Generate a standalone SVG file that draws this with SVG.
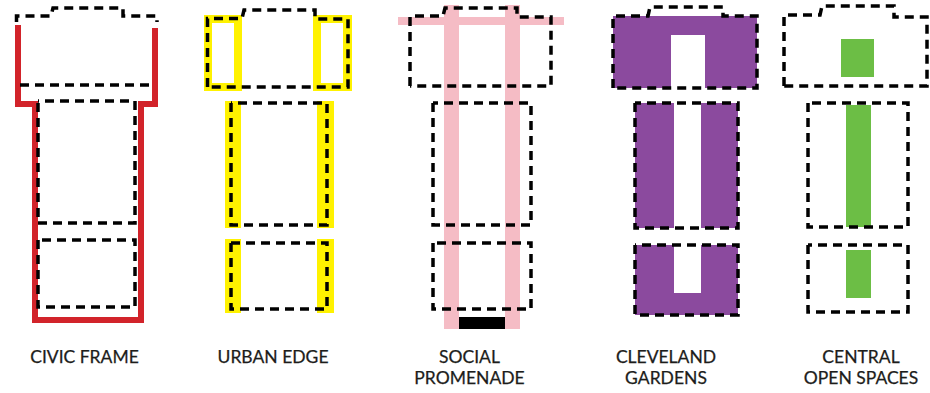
<svg xmlns="http://www.w3.org/2000/svg" width="930" height="393" viewBox="0 0 930 393">
<style>
.d{fill:none;stroke:#000;stroke-width:3.500;stroke-dasharray:9 6}
.t{font-family:"Lato","Liberation Sans",sans-serif;font-size:17.500px;fill:#1d1d1b;stroke:#1d1d1b;stroke-width:.25;text-anchor:middle}
.r{fill:none;stroke:#d2232a;stroke-width:6}
.y{fill:#fff200}.p{fill:#f5bcc5}.m{fill:#8b4a9e}.g{fill:#6cbe45}
</style>
<rect width="930" height="393" fill="#fff"/>
<g id="civic-frame">
<path class="r" d="M18 25V104H35V320H141V104H155V28"/>
<path class="d" d="M16.500 22V16H51L53 8H123V16H157V22M20 85H153M38 103V223H135V101H38M38 240V307H135V240H38"/>
<text class="t" x="84.500" y="362.500">CIVIC FRAME</text>
</g>
<g id="urban-edge">
<path class="y" fill-rule="evenodd" d="M204 15H242V91H204ZM212 23V83H234V23ZM313 15H352V91H313ZM321 23V83H343V23Z"/>
<path class="y" d="M225 101H241V228H225ZM317 101H334V228H317ZM225 239H241V313H225ZM317 239H334V313H317Z"/>
<path class="d" d="M207.500 87V18.500H242L244 10H315V19H348V87H207.500M231 103V225H327V103H231M231 243V309H327V243H231"/>
<text class="t" x="273" y="362.500">URBAN EDGE</text>
</g>
<g id="social-promenade">
<path class="p" d="M398 17H564V25H398ZM444 5H459V329H444ZM505 5H520V329H505Z"/>
<rect x="459" y="317" width="46" height="12" fill="#000"/>
<path class="d" d="M410 86V16H443L445 8H517V17H551V86H410M433 103V225H531V103H433M433 243V309H531V243H433"/>
<text class="t" x="469.500" y="362.500">SOCIAL</text>
<text class="t" x="469.500" y="383.500">PROMENADE</text>
</g>
<g id="cleveland-gardens">
<path class="m" d="M613 16H757V88H705V35H671V88H613ZM635 103H674V228H635ZM701 103H738V228H701ZM635 245H674V293H701V245H738V315H635Z"/>
<path class="d" d="M613 88V16H648L650 7H723V16H757V88H613M635 103V228H738V103H635M635 245V315H738V245H635"/>
<text class="t" x="666" y="362.500">CLEVELAND</text>
<text class="t" x="666" y="383.500">GARDENS</text>
</g>
<g id="central-open-spaces">
<path class="g" d="M841 39H874V77H841ZM846 105H871V227H846ZM846 250H871V298H846Z"/>
<path class="d" d="M784 86V15H820L822 6H894V17H927V86H784M808 103V227H908V103H808M808 245V312H908V245H808"/>
<text class="t" x="861" y="362.500">CENTRAL</text>
<text class="t" x="861" y="383.500">OPEN SPACES</text>
</g>
</svg>
